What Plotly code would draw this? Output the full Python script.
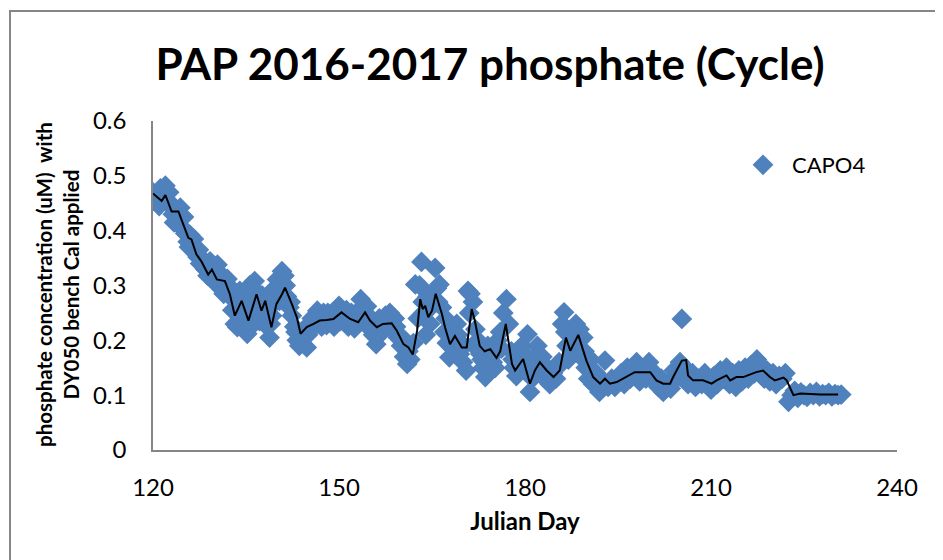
import plotly.graph_objects as go

# scatter observations (Julian day, phosphate uM)
capo4_day = [
    120.0, 120.4, 120.8, 121.2, 121.6, 122.0, 122.4, 122.8, 123.2, 123.6,
    124.0, 124.4, 124.8, 125.2, 125.6, 126.0, 126.4, 126.8, 127.2, 127.6,
    128.0, 128.4, 128.8, 129.2, 129.6, 130.0, 130.4, 130.8, 131.2, 131.6,
    132.0, 132.4, 132.8, 133.2, 133.6, 134.0, 134.4, 134.8, 135.2, 135.6,
    136.0, 136.4, 136.8, 137.2, 137.6, 138.0, 138.4, 138.8, 139.2, 139.6,
    140.0, 140.4, 140.8, 141.2, 141.6, 142.0, 142.4, 142.8, 143.2, 143.6,
    144.0, 144.4, 144.8, 145.2, 145.6, 146.0, 146.5, 147.0, 147.5, 148.0,
    148.5, 149.0, 149.5, 150.0, 150.5, 151.0, 151.5, 152.0, 152.5, 153.0,
    153.5, 154.0, 154.5, 155.0, 155.5, 156.0, 156.5, 157.0, 157.5, 158.0,
    158.5, 159.0, 159.5, 160.0, 160.5, 161.0, 161.5, 162.0, 162.3, 162.7,
    163.0, 163.3, 163.7, 164.0, 164.3, 164.7, 165.0, 165.5, 165.8, 166.2,
    166.6, 167.0, 167.4, 167.8, 168.2, 168.6, 169.0, 169.5, 170.0, 170.5,
    170.8, 171.2, 171.6, 172.0, 172.4, 172.8, 173.2, 173.6, 174.0, 174.4,
    174.8, 175.2, 175.6, 176.0, 176.5, 177.0, 177.4, 177.8, 178.2, 178.6,
    179.0, 179.5, 180.0, 180.4, 180.8, 181.2, 181.6, 182.0, 182.4, 182.8,
    183.2, 183.6, 184.0, 184.5, 185.0, 185.5, 186.0, 186.3, 186.7, 187.0,
    187.4, 187.8, 188.2, 188.6, 189.0, 189.4, 189.8, 190.2, 190.6, 191.0,
    191.5, 192.0, 192.5, 192.9, 193.4, 194.0, 194.5, 195.0, 195.5, 196.0,
    196.5, 197.0, 197.5, 198.0, 198.5, 199.0, 199.5, 200.0, 200.5, 201.0,
    201.5, 202.0, 202.3, 203.0, 203.5, 204.0, 204.5, 205.0, 205.3, 205.8,
    206.3, 207.0, 207.5, 208.0, 208.5, 209.0, 209.5, 210.0, 210.5, 211.0,
    211.5, 212.0, 212.5, 213.0, 213.5, 214.0, 214.5, 215.0, 215.5, 216.0,
    216.5, 217.0, 217.4, 217.8, 218.2, 218.6, 219.0, 219.5, 220.0, 220.5,
    221.0, 221.5, 222.0, 222.5, 223.0, 223.5, 224.0, 224.5, 225.0, 225.5,
    226.0, 226.5, 227.0, 227.5, 228.0, 228.5, 229.0, 229.5, 230.0, 230.5,
    231.0,
    # second pass of samples
    120.2, 121.0, 122.6, 123.4, 124.2, 125.0, 125.8, 126.6, 127.4, 128.2,
    129.0, 129.8, 130.6, 131.4, 132.2, 133.4, 134.2, 135.0, 135.8, 136.6,
    137.4, 138.2, 139.0, 139.8, 140.6, 141.4, 142.2, 143.0, 144.2, 145.0,
    146.2, 147.2, 148.2, 149.2, 150.2, 151.2, 152.2, 153.2, 154.2, 155.2,
    156.2, 157.2, 158.2, 159.2, 160.2, 161.2, 163.5, 164.5, 166.0, 167.2,
    168.4, 169.2, 170.2, 171.0, 172.2, 173.0, 174.2, 175.0, 176.2, 178.0,
    179.2, 180.2, 181.4, 182.2, 183.0, 184.2, 185.2, 186.5, 187.2, 188.0,
    188.8, 189.6, 190.4, 191.2,
]
capo4_val = [
    0.470, 0.458, 0.450, 0.477, 0.462, 0.482, 0.455, 0.445, 0.430, 0.438,
    0.420, 0.442, 0.405, 0.395, 0.380, 0.392, 0.370, 0.360, 0.352, 0.340,
    0.348, 0.330, 0.318, 0.344, 0.322, 0.305, 0.338, 0.300, 0.318, 0.296,
    0.312, 0.280, 0.255, 0.230, 0.224, 0.290, 0.262, 0.240, 0.212, 0.300,
    0.250, 0.308, 0.270, 0.235, 0.282, 0.262, 0.225, 0.205, 0.245, 0.295,
    0.311, 0.272, 0.326, 0.318, 0.280, 0.260, 0.245, 0.225, 0.200, 0.190,
    0.196, 0.215, 0.187, 0.230, 0.240, 0.225, 0.254, 0.240, 0.250, 0.228,
    0.235, 0.245, 0.230, 0.263, 0.245, 0.240, 0.225, 0.250, 0.222, 0.240,
    0.275, 0.245, 0.262, 0.225, 0.210, 0.193, 0.240, 0.215, 0.245, 0.235,
    0.220, 0.240, 0.205, 0.190, 0.170, 0.157, 0.165, 0.195, 0.302, 0.240,
    0.300, 0.343, 0.250, 0.210, 0.280, 0.230, 0.262, 0.332, 0.295, 0.302,
    0.260, 0.215, 0.195, 0.169, 0.215, 0.200, 0.230, 0.175, 0.160, 0.145,
    0.290, 0.285, 0.270, 0.220, 0.200, 0.175, 0.150, 0.133, 0.190, 0.175,
    0.160, 0.150, 0.200, 0.215, 0.250, 0.275, 0.230, 0.180, 0.150, 0.135,
    0.165, 0.190, 0.175, 0.211, 0.106, 0.130, 0.165, 0.190, 0.145, 0.170,
    0.130, 0.150, 0.120, 0.140, 0.130, 0.160, 0.230, 0.251, 0.190, 0.165,
    0.215, 0.175, 0.230, 0.200, 0.170, 0.205, 0.150, 0.130, 0.165, 0.120,
    0.140, 0.106, 0.125, 0.163, 0.115, 0.130, 0.115, 0.128, 0.140, 0.120,
    0.150, 0.130, 0.145, 0.160, 0.125, 0.140, 0.130, 0.160, 0.145, 0.125,
    0.115, 0.130, 0.106, 0.120, 0.112, 0.145, 0.130, 0.160, 0.239, 0.150,
    0.120, 0.140, 0.115, 0.130, 0.120, 0.140, 0.125, 0.110, 0.135, 0.120,
    0.145, 0.130, 0.150, 0.120, 0.140, 0.115, 0.145, 0.125, 0.150, 0.130,
    0.155, 0.140, 0.165, 0.145, 0.150, 0.130, 0.145, 0.125, 0.140, 0.120,
    0.135, 0.130, 0.140, 0.088, 0.100, 0.108, 0.095, 0.105, 0.100, 0.097,
    0.104, 0.100, 0.106, 0.098, 0.102, 0.100, 0.104, 0.098, 0.102, 0.100,
    0.101,
    # second pass of samples
    0.462, 0.445, 0.470, 0.415, 0.410, 0.425, 0.370, 0.385, 0.365, 0.335,
    0.330, 0.310, 0.320, 0.285, 0.300, 0.260, 0.245, 0.280, 0.225, 0.290,
    0.255, 0.245, 0.230, 0.270, 0.300, 0.300, 0.270, 0.215, 0.205, 0.210,
    0.240, 0.225, 0.250, 0.225, 0.235, 0.255, 0.235, 0.255, 0.230, 0.240,
    0.215, 0.230, 0.250, 0.225, 0.205, 0.180, 0.270, 0.260, 0.270, 0.240,
    0.185, 0.210, 0.190, 0.250, 0.185, 0.165, 0.160, 0.175, 0.185, 0.165,
    0.145, 0.150, 0.150, 0.175, 0.155, 0.135, 0.150, 0.215, 0.195, 0.205,
    0.220, 0.180, 0.145, 0.135,
]

# smoothed (cycle) line
cycle_day = [
    120.0, 121.4, 122.0, 123.0, 124.1, 124.9, 125.7, 126.2, 127.0, 127.8,
    128.9, 129.5, 130.3, 131.6, 132.4, 133.2, 134.3, 135.4, 136.7, 137.5,
    138.1, 139.1, 139.9, 140.8, 141.3, 142.4, 143.2, 143.8, 144.8, 145.9,
    146.9, 148.0, 149.1, 150.4, 151.8, 153.1, 154.2, 155.0, 156.1, 157.1,
    158.5, 159.3, 160.4, 161.2, 161.9, 162.6, 163.1, 163.5, 163.9, 164.4,
    165.0, 165.6, 166.6, 167.1, 167.9, 168.7, 169.8, 170.6, 171.4, 171.9,
    172.7, 173.5, 174.4, 175.4, 176.0, 176.9, 177.9, 178.4, 179.2, 179.7,
    180.8, 181.6, 182.4, 183.5, 184.6, 185.6, 186.6, 187.3, 188.6, 189.4,
    189.9, 191.0, 192.1, 192.9, 193.7, 194.8, 196.4, 197.7, 200.2, 201.2,
    202.3, 203.4, 203.9, 205.3, 206.0, 206.3, 207.1, 208.7, 210.1, 210.9,
    212.5, 213.1, 214.1, 215.2, 217.3, 218.4, 219.5, 220.3, 221.7, 222.2,
    223.3, 224.4, 227.6, 230.5,
]
cycle_val = [
    0.468, 0.454, 0.465, 0.435, 0.435, 0.411, 0.387, 0.384, 0.357, 0.344,
    0.320, 0.329, 0.311, 0.308, 0.284, 0.245, 0.272, 0.236, 0.284, 0.254,
    0.272, 0.224, 0.266, 0.284, 0.296, 0.266, 0.242, 0.212, 0.224, 0.230,
    0.236, 0.237, 0.239, 0.251, 0.239, 0.233, 0.251, 0.236, 0.224, 0.230,
    0.231, 0.218, 0.193, 0.187, 0.174, 0.218, 0.275, 0.257, 0.263, 0.242,
    0.254, 0.285, 0.248, 0.224, 0.193, 0.208, 0.187, 0.187, 0.257, 0.236,
    0.190, 0.180, 0.184, 0.168, 0.180, 0.230, 0.157, 0.145, 0.157, 0.166,
    0.121, 0.145, 0.160, 0.145, 0.133, 0.145, 0.205, 0.181, 0.210, 0.181,
    0.163, 0.133, 0.121, 0.130, 0.121, 0.124, 0.134, 0.142, 0.142, 0.127,
    0.121, 0.121, 0.133, 0.163, 0.164, 0.136, 0.127, 0.127, 0.121, 0.127,
    0.136, 0.127, 0.133, 0.133, 0.142, 0.145, 0.133, 0.127, 0.132, 0.127,
    0.100, 0.103, 0.101, 0.101,
]

x_ticks = [120, 150, 180, 210, 240]
y_ticks = [0, 0.1, 0.2, 0.3, 0.4, 0.5, 0.6]

FONT = "Lato, Calibri, Carlito, sans-serif"
GRAY = "#868686"
OFF = 8  # page offset of the plot div (body margin)

fig = go.Figure()
fig.add_trace(go.Scatter(
    x=capo4_day, y=capo4_val, mode="markers", name="CAPO4",
    marker=dict(symbol="diamond", size=16, color="#4F81BD", line=dict(width=0)),
))
fig.add_trace(go.Scatter(
    x=cycle_day, y=cycle_val, mode="lines", showlegend=False,
    line=dict(color="black", width=2),
))

# plot area in page pixels: x 153..897, y 121..450
L, R, T, B = 153 - OFF, 943 - (897 - OFF), 121 - OFF, 560 - (450 - OFF)
pw, ph = 943 - L - R, 560 - T - B
def px(x):
    return (x - OFF - L) / pw
def py(y):
    return (560 - B - (y - OFF)) / ph

fig.update_layout(
    width=943, height=560,
    margin=dict(l=L, r=R, t=T, b=B),
    paper_bgcolor="white", plot_bgcolor="white",
    font=dict(family=FONT, size=24, color="black"),
    title=dict(text="<b>PAP 2016-2017 phosphate (Cycle)</b>",
               font=dict(size=44, family=FONT),
               x=(490 - OFF) / 943, xref="container", xanchor="center",
               y=1 - (65 - OFF) / 560, yref="container", yanchor="middle"),
    showlegend=True,
    legend=dict(x=px(734), y=py(165), xanchor="left", yanchor="middle",
                itemwidth=48,
                bgcolor="rgba(0,0,0,0)", font=dict(size=22, family=FONT)),
    xaxis=dict(range=[120, 240], tickvals=x_ticks, showgrid=False,
               zeroline=False, showline=True, linecolor=GRAY, linewidth=1.5,
               ticks="", ticklabelstandoff=15,
               title=dict(text="<b>Julian Day</b>", font=dict(size=24),
                          standoff=14)),
    yaxis=dict(range=[0, 0.6], tickvals=y_ticks,
               ticktext=["0", "0.1", "0.2", "0.3", "0.4", "0.5", "0.6"],
               showgrid=False, zeroline=False, showline=True,
               linecolor=GRAY, linewidth=1.5, ticks="", ticklabelstandoff=20),
    annotations=[dict(
        text="<b>phosphate concentration (uM)  with<br>DY050 bench Cal applied</b>",
        textangle=-90, xref="paper", yref="paper", x=px(57), y=py(285),
        xanchor="center", yanchor="middle", showarrow=False,
        font=dict(size=20.5, family=FONT),
    )],
    shapes=[
        dict(type="line", xref="paper", yref="paper",
             x0=px(10), x1=px(10), y0=py(11), y1=py(580),
             line=dict(color=GRAY, width=2)),
        dict(type="line", xref="paper", yref="paper",
             x0=px(9), x1=px(960), y0=py(11), y1=py(11),
             line=dict(color=GRAY, width=2)),
    ],
)

fig.write_html("out.html")
